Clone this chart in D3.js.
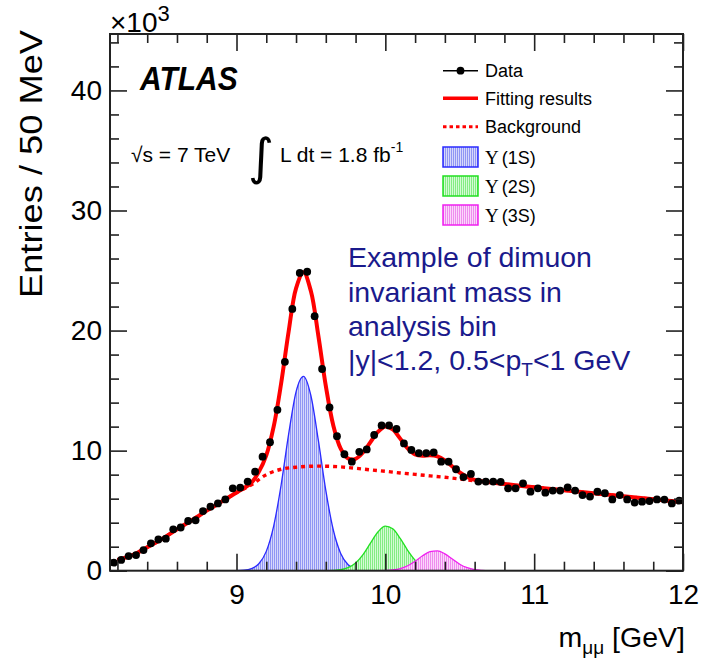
<!DOCTYPE html>
<html>
<head>
<meta charset="utf-8">
<script src="https://cdn.jsdelivr.net/npm/d3@7"></script>
<style>
  body { margin: 0; background: #fff; }
  svg { font-family: 'Liberation Sans', Arial, sans-serif; }
</style>
</head>
<body>
<svg width="711" height="670"></svg>
<script>
// entries per 50 MeV bin, in thousands
const binStart = 8.175
const binWidth = 0.05
const dataCounts = [
  0.67, 0.9, 1.22, 1.3, 1.72, 2.28, 2.6, 2.67, 3.45, 3.6, 4.14, 4.2, 4.97, 5.33, 5.6, 5.94,
  6.86, 6.92, 7.42, 8.25, 9.5, 10.7, 13.4, 17.4, 21.8, 24.8, 24.9, 21.2, 16.8, 13.6, 11.2,
  9.7, 9.08, 9.9, 10.1, 11.3, 12.1, 12.1, 11.8, 10.6, 10.06, 9.8, 9.8, 9.85, 9.08, 9.08,
  8.45, 7.8, 8.06, 7.42, 7.42, 7.42, 7.4, 6.86, 6.86, 7.28, 6.58, 6.86, 6.5, 6.67, 6.67,
  6.94, 6.67, 6.3, 6.17, 6.58, 6.45, 5.94, 6.3, 5.94, 5.67, 5.75, 5.8, 5.94, 5.92, 5.6, 5.83,
]

// fitted curves as [mass GeV, entries x10^3]
const fitCurve = [
  [8.2, 0.9], [8.3, 1.3], [8.4, 1.95], [8.5, 2.65], [8.6, 3.45], [8.7, 4.2], [8.8, 5.0],
  [8.9, 5.75], [9.0, 6.51], [9.05, 6.89], [9.1, 7.32], [9.15, 8.23], [9.2, 9.61], [9.25, 12.02],
  [9.3, 15.61], [9.35, 19.9], [9.4, 23.52], [9.45, 24.86], [9.5, 23.27], [9.55, 19.56],
  [9.6, 15.39], [9.65, 12.11], [9.7, 10.17], [9.75, 9.35], [9.8, 9.32], [9.85, 9.85],
  [9.9, 10.71], [9.95, 11.56], [10.0, 12.01], [10.05, 11.76], [10.1, 11.0], [10.15, 10.19],
  [10.2, 9.69], [10.25, 9.57], [10.3, 9.62], [10.35, 9.53], [10.4, 9.19], [10.45, 8.68],
  [10.5, 8.18], [10.55, 7.81], [10.6, 7.57], [10.65, 7.45], [10.7, 7.36], [10.8, 7.22],
  [10.9, 7.08], [11.0, 6.95], [11.1, 6.82], [11.2, 6.7], [11.3, 6.57], [11.4, 6.45],
  [11.5, 6.32], [11.6, 6.2], [11.7, 6.07], [11.8, 5.95], [11.9, 5.83], [12.0, 5.7],
]
const backgroundCurve = [
  [8.2, 0.9], [8.3, 1.3], [8.4, 1.95], [8.5, 2.65], [8.6, 3.45], [8.7, 4.2], [8.8, 5.0],
  [8.9, 5.75], [9.0, 6.5], [9.1, 7.15], [9.2, 8.0], [9.3, 8.45], [9.4, 8.62], [9.5, 8.7],
  [9.6, 8.7], [9.7, 8.65], [9.8, 8.53], [9.9, 8.4], [10.0, 8.28], [10.1, 8.14], [10.2, 8.02],
  [10.3, 7.9], [10.4, 7.78], [10.5, 7.64], [10.6, 7.48], [10.7, 7.35], [10.8, 7.22],
  [10.9, 7.08], [11.0, 6.95], [11.2, 6.7], [11.4, 6.45], [11.6, 6.2], [11.8, 5.95], [12.0, 5.7],
]
const upsilon1S = [
  [8.5, 0], [9.0, 0.01], [9.05, 0.04], [9.1, 0.17], [9.15, 0.58], [9.2, 1.61], [9.25, 3.74],
  [9.3, 7.16], [9.35, 11.35], [9.4, 14.9], [9.45, 16.19], [9.5, 14.57], [9.55, 10.85],
  [9.6, 6.69], [9.65, 3.41], [9.7, 1.44], [9.75, 0.5], [9.8, 0.15], [9.85, 0.04], [9.9, 0.01],
  [10.4, 0],
]
const upsilon2S = [
  [9.06, 0], [9.6, 0], [9.65, 0.02], [9.7, 0.08], [9.75, 0.25], [9.8, 0.64], [9.85, 1.34],
  [9.9, 2.3], [9.95, 3.22], [10.0, 3.71], [10.05, 3.49], [10.1, 2.69], [10.15, 1.7],
  [10.2, 0.88], [10.25, 0.37], [10.3, 0.13], [10.35, 0.04], [10.4, 0.01], [10.96, 0],
]
const upsilon3S = [
  [9.52, 0], [9.95, 0], [10.0, 0.02], [10.05, 0.06], [10.1, 0.17], [10.15, 0.41], [10.2, 0.79],
  [10.25, 1.24], [10.3, 1.59], [10.35, 1.65], [10.4, 1.4], [10.45, 0.97], [10.5, 0.54],
  [10.55, 0.25], [10.6, 0.09], [10.65, 0.03], [10.7, 0.01], [12.0, 0],
]

const xMajorTicks = [9, 10, 11, 12]
const yMajorTicks = [0, 10, 20, 30, 40]
const legendLabels = ['Data', 'Fitting results', 'Background', '(1S)', '(2S)', '(3S)']

const components = [
  { key: '1s', values: upsilon1S, line: '#2b2bff', dark: '#9096f4', light: '#d6d8fb' },
  { key: '2s', values: upsilon2S, line: '#22e022', dark: '#84ec84', light: '#d4fbd4' },
  { key: '3s', values: upsilon3S, line: '#f020f0', dark: '#ee8cee', light: '#fbd6fb' },
]

const margin = { left: 110, right: 28, top: 34, bottom: 99.3 }
const width = 711
const height = 670

const svg = d3.select('svg')
const defs = svg.append('defs')

defs.append('clipPath')
  .attr('id', 'plot-clip')
  .append('rect')
  .attr('x', margin.left)
  .attr('y', margin.top)
  .attr('width', width - margin.left - margin.right)
  .attr('height', height - margin.top - margin.bottom)

components.forEach(c => {
  const p = defs.append('pattern')
    .attr('id', `fill-${ c.key }`)
    .attr('patternUnits', 'userSpaceOnUse')
    .attr('width', 2)
    .attr('height', 3)
  p.append('rect').attr('width', 2).attr('height', 3).attr('fill', c.light)
  p.append('rect').attr('width', 1).attr('height', 3).attr('fill', c.dark)
})

const x = d3.scaleLinear([8.15, 12], [margin.left, width - margin.right])
const y = d3.scaleLinear([0, 44.7], [height - margin.bottom, margin.top])

const plot = svg.append('g').attr('clip-path', 'url(#plot-clip)')

// Upsilon signal components
const area = d3.area()
  .x(d => x(d[0]))
  .y0(y(0))
  .y1(d => y(d[1]))
  .curve(d3.curveMonotoneX)

plot.selectAll('path.component')
  .data(components)
  .join('path')
  .classed('component', true)
  .attr('d', d => area(d.values))
  .attr('fill', d => `url(#fill-${ d.key })`)
  .attr('stroke', d => d.line)
  .attr('stroke-width', 1.3)

// background and total fit
const line = d3.line()
  .x(d => x(d[0]))
  .y(d => y(d[1]))
  .curve(d3.curveCatmullRom.alpha(0.5))

plot.append('path')
  .attr('d', line(backgroundCurve))
  .attr('fill', 'none')
  .attr('stroke', '#ff0000')
  .attr('stroke-width', 3.4)
  .attr('stroke-dasharray', '4,4')

plot.append('path')
  .attr('d', line(fitCurve))
  .attr('fill', 'none')
  .attr('stroke', '#ff0000')
  .attr('stroke-width', 4)

// data points
plot.selectAll('circle.data')
  .data(dataCounts)
  .join('circle')
  .classed('data', true)
  .attr('cx', (d, i) => x(binStart + i * binWidth))
  .attr('cy', d => y(d))
  .attr('r', 3.9)
  .attr('fill', '#000')

// frame and ticks, all pointing inwards
const minorX = d3.range(8.2, 12.01, 0.2).filter(v => Math.abs(v - Math.round(v)) > 0.01)
const minorY = d3.range(2, 44.7, 2).filter(v => v % 10 !== 0)
const axisStyle = g => {
  g.select('.domain').remove()
  g.selectAll('.tick line').attr('stroke', '#222').attr('stroke-width', 1.6)
  g.selectAll('.tick text').attr('font-size', 28).attr('fill', '#000')
    .attr('font-family', "'Liberation Sans', Arial, sans-serif")
}

const bottomY = height - margin.bottom
const rightX = width - margin.right

svg.append('g')
  .attr('transform', `translate(0,${ bottomY })`)
  .call(d3.axisBottom(x).tickValues(xMajorTicks).tickFormat(d3.format('d')).tickSizeInner(-17).tickPadding(13))
  .call(axisStyle)
svg.append('g')
  .attr('transform', `translate(0,${ bottomY })`)
  .call(d3.axisBottom(x).tickValues(minorX).tickFormat('').tickSizeInner(-9))
  .call(axisStyle)
svg.append('g')
  .attr('transform', `translate(0,${ margin.top })`)
  .call(d3.axisTop(x).tickValues(xMajorTicks).tickFormat('').tickSizeInner(-17))
  .call(axisStyle)
svg.append('g')
  .attr('transform', `translate(0,${ margin.top })`)
  .call(d3.axisTop(x).tickValues(minorX).tickFormat('').tickSizeInner(-9))
  .call(axisStyle)

svg.append('g')
  .attr('transform', `translate(${ margin.left },0)`)
  .call(d3.axisLeft(y).tickValues(yMajorTicks).tickFormat(d3.format('d')).tickSizeInner(-17).tickPadding(8))
  .call(axisStyle)
svg.append('g')
  .attr('transform', `translate(${ margin.left },0)`)
  .call(d3.axisLeft(y).tickValues(minorY).tickFormat('').tickSizeInner(-9))
  .call(axisStyle)
svg.append('g')
  .attr('transform', `translate(${ rightX },0)`)
  .call(d3.axisRight(y).tickValues(yMajorTicks).tickFormat('').tickSizeInner(-17))
  .call(axisStyle)
svg.append('g')
  .attr('transform', `translate(${ rightX },0)`)
  .call(d3.axisRight(y).tickValues(minorY).tickFormat('').tickSizeInner(-9))
  .call(axisStyle)

svg.append('rect')
  .attr('x', margin.left)
  .attr('y', margin.top)
  .attr('width', rightX - margin.left)
  .attr('height', bottomY - margin.top)
  .attr('fill', 'none')
  .attr('stroke', '#222')
  .attr('stroke-width', 2)

// axis titles
svg.append('text')
  .attr('transform', 'translate(42,30) rotate(-90)')
  .attr('text-anchor', 'end')
  .attr('font-size', 31)
  .attr('textLength', 268)
  .attr('lengthAdjust', 'spacingAndGlyphs')
  .text('Entries / 50 MeV')

const xTitle = svg.append('text')
  .attr('x', 685)
  .attr('y', 647)
  .attr('text-anchor', 'end')
  .attr('font-size', 28.5)
xTitle.append('tspan').text('m')
xTitle.append('tspan').attr('font-size', 19).attr('dy', 7).text('μμ')
xTitle.append('tspan').attr('dy', -7).text(' [GeV]')

const expo = svg.append('text')
  .attr('x', 110)
  .attr('y', 32)
  .attr('font-size', 28)
expo.append('tspan').text('×10')
expo.append('tspan').attr('font-size', 22).attr('dy', -11).text('3')

// labels inside the frame
svg.append('text')
  .attr('transform', 'translate(140,90) scale(1,1.12)')
  .attr('font-size', 30)
  .attr('font-weight', 'bold')
  .attr('font-style', 'italic')
  .text('ATLAS')

svg.append('text')
  .attr('x', 131)
  .attr('y', 162)
  .attr('font-size', 21)
  .text('√s = 7 TeV')

svg.append('text')
  .attr('x', 248)
  .attr('y', 174)
  .attr('font-size', 50)
  .attr('font-family', "'DejaVu Sans', sans-serif")
  .text('∫')

const lumi = svg.append('text')
  .attr('x', 280)
  .attr('y', 162)
  .attr('font-size', 21)
lumi.append('tspan').text('L dt = 1.8 fb')
lumi.append('tspan').attr('font-size', 14).attr('dy', -10).text('-1')

const note = svg.append('text')
  .attr('x', 348)
  .attr('font-size', 28.5)
  .attr('fill', '#1a1a8c')
note.append('tspan').attr('x', 348).attr('y', 267).text('Example of dimuon')
note.append('tspan').attr('x', 348).attr('y', 301.5).text('invariant mass in')
note.append('tspan').attr('x', 348).attr('y', 336).text('analysis bin')
note.append('tspan').attr('x', 348).attr('y', 370).text('|y|<1.2, 0.5<p')
note.append('tspan').attr('font-size', 19).attr('dy', 6).text('T')
note.append('tspan').attr('dy', -6).text('<1 GeV')

// legend
const legend = svg.append('g').attr('transform', 'translate(443,0)')
const rowY = [70.7, 98.3, 126.7, 157, 186, 215]

legend.append('line')
  .attr('x1', 0).attr('x2', 35).attr('y1', rowY[0]).attr('y2', rowY[0])
  .attr('stroke', '#000').attr('stroke-width', 1.5)
legend.append('circle')
  .attr('cx', 17.5).attr('cy', rowY[0]).attr('r', 3.9)
legend.append('line')
  .attr('x1', 0).attr('x2', 35).attr('y1', rowY[1]).attr('y2', rowY[1])
  .attr('stroke', '#ff0000').attr('stroke-width', 3.5)
legend.append('line')
  .attr('x1', 0).attr('x2', 35).attr('y1', rowY[2]).attr('y2', rowY[2])
  .attr('stroke', '#ff0000').attr('stroke-width', 3).attr('stroke-dasharray', '3.5,3')

legend.selectAll('rect')
  .data(components)
  .join('rect')
  .attr('x', 0)
  .attr('y', (d, i) => rowY[i + 3] - 10)
  .attr('width', 35)
  .attr('height', 20)
  .attr('fill', d => `url(#fill-${ d.key })`)
  .attr('stroke', d => d.line)
  .attr('stroke-width', 1.5)

legend.selectAll('text.plain')
  .data(legendLabels.slice(0, 3))
  .join('text')
  .classed('plain', true)
  .attr('x', 42)
  .attr('y', (d, i) => rowY[i] + 6.5)
  .attr('font-size', 18)
  .text(d => d)

const upsLabels = legend.selectAll('text.ups')
  .data(legendLabels.slice(3))
  .join('text')
  .classed('ups', true)
  .attr('x', 42)
  .attr('y', (d, i) => rowY[i + 3] + 6.5)
  .attr('font-size', 18)
upsLabels.append('tspan')
  .attr('font-family', "'Liberation Serif', 'Times New Roman', serif")
  .attr('font-size', 19)
  .text('Υ')
upsLabels.append('tspan')
  .attr('dx', 3)
  .text(d => d)
</script>
</body>
</html>
